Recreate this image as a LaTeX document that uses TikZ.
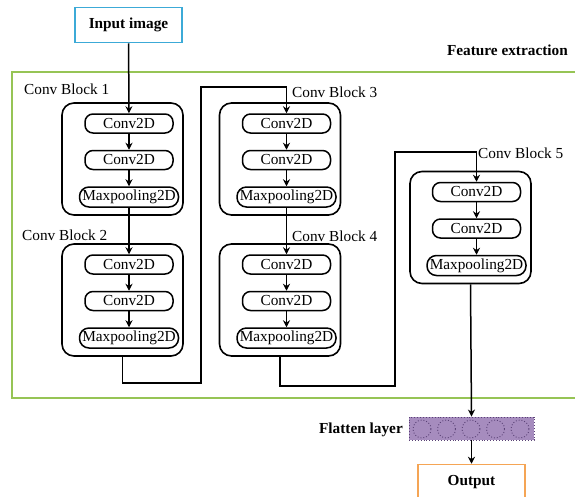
\documentclass[tikz,border=0pt]{standalone}
\usepackage{fontspec}
\setmainfont{Liberation Serif}
\usepackage{xcolor}
\usepackage{tikz}
\usetikzlibrary{arrows.meta, positioning}

\definecolor{framegreen}{RGB}{150,196,85}
\definecolor{inputblue}{RGB}{60,170,215}
\definecolor{outorange}{RGB}{245,165,85}
\definecolor{flatpurple}{RGB}{166,140,190}
\definecolor{dotpurple}{RGB}{90,66,118}

\tikzstyle{txt}       = [font=\fontsize{15.3}{18}\selectfont]
\tikzstyle{boldtxt}   = [font=\fontsize{15.3}{18}\selectfont\bfseries]
\tikzstyle{conv}      = [rectangle, rounded corners=8pt, minimum width=88pt,
                         minimum height=19pt, inner sep=0pt, draw=black,
                         line width=1.5pt, txt]
\tikzstyle{pool}      = [rectangle, rounded corners=9.5pt, minimum width=99pt,
                         minimum height=20pt, inner sep=0pt, draw=black,
                         line width=1.5pt, txt]
\tikzstyle{convblock} = [rectangle, rounded corners=12pt, minimum width=121pt,
                         minimum height=112pt, draw=black, line width=1.6pt]
\tikzstyle{blocklabel}= [anchor=west, inner sep=0pt, txt]
\tikzstyle{io}        = [rectangle, minimum width=107pt, minimum height=35pt,
                         line width=1.5pt, boldtxt]
\tikzstyle{flatten}   = [rectangle, minimum width=125pt, minimum height=23pt,
                         fill=flatpurple, draw=dotpurple, dotted, line width=0.9pt]
\tikzstyle{unit}      = [circle, minimum size=18pt, inner sep=0pt,
                         draw=dotpurple, dotted, line width=0.9pt]
\tikzstyle{arrow}     = [line width=1.5pt, -{Stealth[length=7pt, width=7pt]}]

\begin{document}
\begin{tikzpicture}[x=1pt, y=-1pt, node distance=16pt]

    \useasboundingbox (0,0) rectangle (575,496);

    % ── Feature extraction frame ───────────────────────────────────────────
    \node (extract) [draw=framegreen, line width=1.3pt, minimum width=570pt,
                     minimum height=326pt] at (297,235) {};
    \node (extractlbl) [anchor=east, inner sep=0pt, boldtxt] at (568,50)
        {Feature extraction};

    % ── Input ──────────────────────────────────────────────────────────────
    \node (input) [io, draw=inputblue] at (128.5,25) {Input image};

    % ── Conv Block 1 ───────────────────────────────────────────────────────
    \node (blk1) [convblock] at (122.5,159) {};
    \node (b1c1) [conv] at (129,123.5)     {Conv2D};
    \node (b1c2) [conv, below=of b1c1]     {Conv2D};
    \node (b1mp) [pool, below=of b1c2]     {Maxpooling2D};
    \node (lbl1) [blocklabel] at (24,89)   {Conv Block 1};

    % ── Conv Block 2 ───────────────────────────────────────────────────────
    \node (blk2) [convblock] at (122.5,300) {};
    \node (b2c1) [conv] at (129,264.5)     {Conv2D};
    \node (b2c2) [conv, below=of b2c1]     {Conv2D};
    \node (b2mp) [pool, below=of b2c2]     {Maxpooling2D};
    \node (lbl2) [blocklabel] at (22,235)  {Conv Block 2};

    % ── Conv Block 3 ───────────────────────────────────────────────────────
    \node (blk3) [convblock] at (280,159) {};
    \node (b3c1) [conv] at (286.5,123.5)   {Conv2D};
    \node (b3c2) [conv, below=of b3c1]     {Conv2D};
    \node (b3mp) [pool, below=of b3c2]     {Maxpooling2D};
    \node (lbl3) [blocklabel] at (292,92)  {Conv Block 3};

    % ── Conv Block 4 ───────────────────────────────────────────────────────
    \node (blk4) [convblock] at (280,300) {};
    \node (b4c1) [conv] at (286.5,264.5)   {Conv2D};
    \node (b4c2) [conv, below=of b4c1]     {Conv2D};
    \node (b4mp) [pool, below=of b4c2]     {Maxpooling2D};
    \node (lbl4) [blocklabel] at (292,236) {Conv Block 4};

    % ── Conv Block 5 ───────────────────────────────────────────────────────
    \node (blk5) [convblock] at (470.5,227.5) {};
    \node (b5c1) [conv] at (476.5,192)     {Conv2D};
    \node (b5c2) [conv, below=of b5c1]     {Conv2D};
    \node (b5mp) [pool, below=of b5c2]     {Maxpooling2D};
    \node (lbl5) [blocklabel] at (478,153) {Conv Block 5};

    % ── Flatten + output ───────────────────────────────────────────────────
    \node (flat) [flatten] at (471.5,428.5) {};
    \node (f1) [unit] at (422,429)   {};
    \node (f2) [unit] at (446.5,429) {};
    \node (f3) [unit] at (471,429)   {};
    \node (f4) [unit] at (495.5,429) {};
    \node (f5) [unit] at (520,429)   {};
    \node (flatlbl) [anchor=east, inner sep=0pt, boldtxt] at (403,430)
        {Flatten layer};
    \node (output) [io, draw=outorange] at (471.5,482) {Output};

    % ── Bend points between blocks ─────────────────────────────────────────
    \coordinate (turn23) at (201,87);
    \coordinate (turn45) at (395,152);

    % ── Arrows ─────────────────────────────────────────────────────────────
    \draw [arrow] (input) -- (b1c1);
    \draw [arrow] (b1c1)  -- (b1c2);
    \draw [arrow] (b1c2)  -- (b1mp);
    \draw [arrow] (b1mp)  -- (b2c1);
    \draw [arrow] (b2c1)  -- (b2c2);
    \draw [arrow] (b2c2)  -- (b2mp);
    \draw [arrow] (blk2.south) -- ++(0,26) -| (turn23) -| (b3c1.north);
    \draw [arrow] (b3c1)  -- (b3c2);
    \draw [arrow] (b3c2)  -- (b3mp);
    \draw [arrow] (b3mp)  -- (b4c1);
    \draw [arrow] (b4c1)  -- (b4c2);
    \draw [arrow] (b4c2)  -- (b4mp);
    \draw [arrow] (blk4.south) -- ++(0,29) -| (turn45) -| (b5c1.north);
    \draw [arrow] (b5c1)  -- (b5c2);
    \draw [arrow] (b5c2)  -- (b5mp);
    \draw [arrow] (blk5.south) -- (flat.north);
    \draw [arrow] (flat)  -- (output);

\end{tikzpicture}
\end{document}
